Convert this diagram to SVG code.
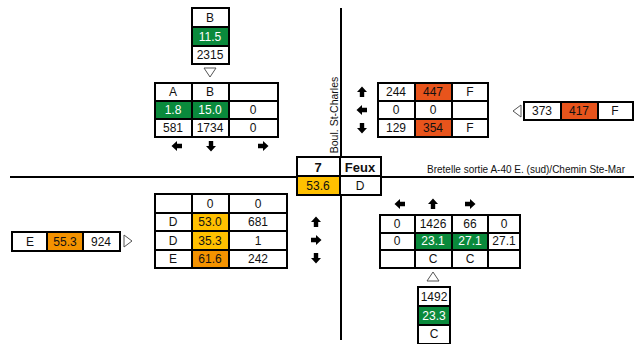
<svg xmlns="http://www.w3.org/2000/svg" width="634" height="344" viewBox="0 0 634 344">
<style>
text{font-family:"Liberation Sans",Arial,sans-serif;font-size:12px;fill:#111;text-anchor:middle;dominant-baseline:central}
.b{font-weight:bold;font-size:13px}
.w{fill:#fff}
.cell{fill:#fff;stroke:#000;stroke-width:2}
.g{fill:#0A8A3C;stroke:#000;stroke-width:2}
.r{fill:#E8541C;stroke:#000;stroke-width:2}
.y{fill:#FFC000;stroke:#000;stroke-width:2}
.o{fill:#F39200;stroke:#000;stroke-width:2}
.tri{fill:#fff;stroke:#555;stroke-width:1}
.ln{stroke:#000;stroke-width:2;fill:none}
.t{font-size:10.5px;text-anchor:start}
</style>
<defs>
<path id="au" d="M0,-5.5 L5,0 L2.2,0 L2.2,5 L-2.2,5 L-2.2,0 L-5,0 Z" fill="#000"/>
</defs>
<rect width="634" height="344" fill="#fff"/>
<g id="axes">
<line class="ln" x1="341" y1="8" x2="341" y2="340"/>
<line class="ln" x1="10" y1="177" x2="634" y2="177"/>
<text transform="translate(334,115) rotate(-90)" style="font-size:10.5px">Boul. St-Charles</text>
<text class="t" x="427" y="169" textLength="198" lengthAdjust="spacingAndGlyphs">Bretelle sortie A-40 E. (sud)/Chemin Ste-Mar</text>
</g>
<g id="center">
<rect class="cell" x="297" y="157" width="43" height="19"/>
<rect class="cell" x="340" y="157" width="41" height="19"/>
<rect class="y" x="297" y="176" width="43" height="19"/>
<rect class="cell" x="340" y="176" width="41" height="19"/>
<text class="b" x="318" y="167">7</text>
<text class="b" x="360" y="167">Feux</text>
<text x="318" y="186">53.6</text>
<text x="360" y="186">D</text>
</g>
<g id="north-approach">
<rect class="cell" x="192" y="8" width="37" height="19"/>
<rect class="g" x="192" y="27" width="37" height="19"/>
<rect class="cell" x="192" y="46" width="37" height="18"/>
<text x="210" y="18">B</text>
<text class="w" x="210" y="37">11.5</text>
<text x="210" y="55">2315</text>
<polygon class="tri" points="204,68 216,68 210,77"/>
</g>
<g id="north-table">
<rect class="cell" x="155" y="83" width="37" height="18"/>
<rect class="cell" x="192" y="83" width="37" height="18"/>
<rect class="cell" x="229" y="83" width="49" height="18"/>
<rect class="g" x="155" y="101" width="37" height="18"/>
<rect class="g" x="192" y="101" width="37" height="18"/>
<rect class="cell" x="229" y="101" width="49" height="18"/>
<rect class="cell" x="155" y="119" width="37" height="18"/>
<rect class="cell" x="192" y="119" width="37" height="18"/>
<rect class="cell" x="229" y="119" width="49" height="18"/>
<text x="173" y="92">A</text>
<text x="210" y="92">B</text>
<text class="w" x="173" y="110">1.8</text>
<text class="w" x="210" y="110">15.0</text>
<text x="253" y="110">0</text>
<text x="173" y="128">581</text>
<text x="210" y="128">1734</text>
<text x="253" y="128">0</text>
<use href="#au" transform="translate(177,146) rotate(-90)"/>
<use href="#au" transform="translate(211,146) rotate(180)"/>
<use href="#au" transform="translate(263,146) rotate(90)"/>
</g>
<g id="east-table">
<rect class="cell" x="378" y="83" width="37" height="18"/>
<rect class="r" x="415" y="83" width="37" height="18"/>
<rect class="cell" x="452" y="83" width="36" height="18"/>
<rect class="cell" x="378" y="101" width="37" height="18"/>
<rect class="cell" x="415" y="101" width="37" height="18"/>
<rect class="cell" x="452" y="101" width="36" height="18"/>
<rect class="cell" x="378" y="119" width="37" height="18"/>
<rect class="r" x="415" y="119" width="37" height="18"/>
<rect class="cell" x="452" y="119" width="36" height="18"/>
<text x="396" y="92">244</text>
<text x="433" y="92">447</text>
<text x="470" y="92">F</text>
<text x="396" y="110">0</text>
<text x="433" y="110">0</text>
<text x="396" y="128">129</text>
<text x="433" y="128">354</text>
<text x="470" y="128">F</text>
<use href="#au" transform="translate(362,92)"/>
<use href="#au" transform="translate(362,110) rotate(-90)"/>
<use href="#au" transform="translate(362,128) rotate(180)"/>
</g>
<g id="east-approach">
<polygon class="tri" points="513,111 521,105 521,117"/>
<rect class="cell" x="524" y="102" width="37" height="18"/>
<rect class="r" x="561" y="102" width="37" height="18"/>
<rect class="cell" x="598" y="102" width="35" height="18"/>
<text x="542" y="111">373</text>
<text x="579" y="111">417</text>
<text x="615" y="111">F</text>
</g>
<g id="west-approach">
<rect class="cell" x="12" y="232" width="35" height="19"/>
<rect class="o" x="47" y="232" width="36" height="19"/>
<rect class="cell" x="83" y="232" width="37" height="19"/>
<text x="30" y="242">E</text>
<text x="65" y="242">55.3</text>
<text x="101" y="242">924</text>
<polygon class="tri" points="124,235 132,241 124,247"/>
</g>
<g id="west-table">
<rect class="cell" x="155" y="194" width="37" height="19"/>
<rect class="cell" x="192" y="194" width="37" height="19"/>
<rect class="cell" x="229" y="194" width="58" height="19"/>
<rect class="cell" x="155" y="213" width="37" height="18"/>
<rect class="y" x="192" y="213" width="37" height="18"/>
<rect class="cell" x="229" y="213" width="58" height="18"/>
<rect class="cell" x="155" y="231" width="37" height="19"/>
<rect class="y" x="192" y="231" width="37" height="19"/>
<rect class="cell" x="229" y="231" width="58" height="19"/>
<rect class="cell" x="155" y="250" width="37" height="18"/>
<rect class="o" x="192" y="250" width="37" height="18"/>
<rect class="cell" x="229" y="250" width="58" height="18"/>
<text x="210" y="204">0</text>
<text x="258" y="204">0</text>
<text x="173" y="222">D</text>
<text x="210" y="222">53.0</text>
<text x="258" y="222">681</text>
<text x="173" y="241">D</text>
<text x="210" y="241">35.3</text>
<text x="258" y="241">1</text>
<text x="173" y="259">E</text>
<text x="210" y="259">61.6</text>
<text x="258" y="259">242</text>
<use href="#au" transform="translate(316,222)"/>
<use href="#au" transform="translate(316,240) rotate(90)"/>
<use href="#au" transform="translate(316,258) rotate(180)"/>
</g>
<g id="south-table">
<rect class="cell" x="380" y="215" width="35" height="18"/>
<rect class="cell" x="415" y="215" width="37" height="18"/>
<rect class="cell" x="452" y="215" width="36" height="18"/>
<rect class="cell" x="488" y="215" width="32" height="18"/>
<rect class="cell" x="380" y="233" width="35" height="17"/>
<rect class="g" x="415" y="233" width="37" height="17"/>
<rect class="g" x="452" y="233" width="36" height="17"/>
<rect class="cell" x="488" y="233" width="32" height="17"/>
<rect class="cell" x="380" y="250" width="35" height="18"/>
<rect class="cell" x="415" y="250" width="37" height="18"/>
<rect class="cell" x="452" y="250" width="36" height="18"/>
<rect class="cell" x="488" y="250" width="32" height="18"/>
<text x="397" y="224">0</text>
<text x="433" y="224">1426</text>
<text x="470" y="224">66</text>
<text x="504" y="224">0</text>
<text x="397" y="241">0</text>
<text class="w" x="433" y="241">23.1</text>
<text class="w" x="470" y="241">27.1</text>
<text x="504" y="241">27.1</text>
<text x="433" y="259">C</text>
<text x="470" y="259">C</text>
<use href="#au" transform="translate(400,204) rotate(-90)"/>
<use href="#au" transform="translate(433,204)"/>
<use href="#au" transform="translate(470,204) rotate(90)"/>
</g>
<g id="south-approach">
<polygon class="tri" points="427,281 439,281 433,272"/>
<rect class="cell" x="418" y="287" width="32" height="19"/>
<rect class="g" x="418" y="306" width="32" height="19"/>
<rect class="cell" x="418" y="325" width="32" height="19"/>
<text x="434" y="297">1492</text>
<text class="w" x="434" y="316">23.3</text>
<text x="434" y="334">C</text>
</g>
</svg>
